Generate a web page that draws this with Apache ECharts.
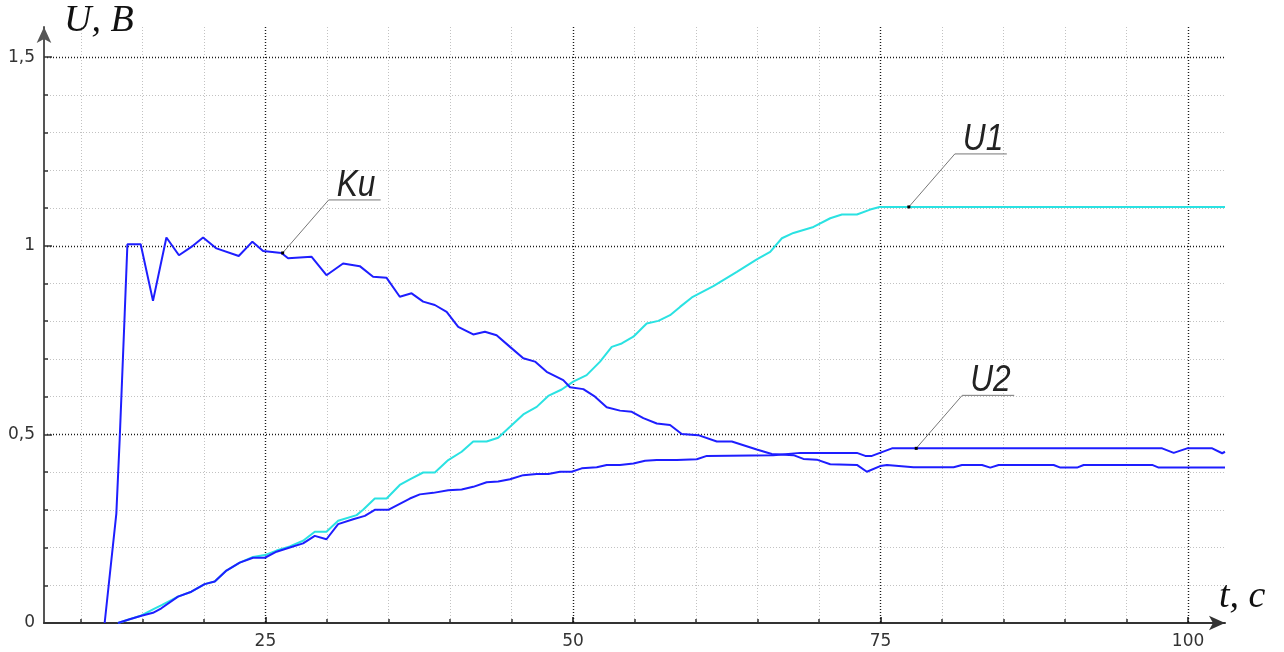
<!DOCTYPE html>
<html>
<head>
<meta charset="utf-8">
<script src="https://cdn.jsdelivr.net/npm/echarts@6.0.0/dist/echarts.min.js"></script>
<style>
  html, body { margin: 0; padding: 0; background: #fff; }
  #chart { width: 1284px; height: 652px; }
</style>
</head>
<body>
<div id="chart"></div>
<script>
// Ku curve
var kuT = [11.93, 12.88, 13.15, 13.56, 13.78, 14.86, 15.86, 16.95, 17.97, 18.98, 19.93, 21.02, 22.83, 23.94, 24.81,
  26.30, 26.84, 28.74, 29.96, 31.31, 32.67, 33.75, 34.85, 35.92, 36.88, 37.82, 38.77, 39.73, 40.67, 41.89, 42.84,
  43.79, 44.88, 45.96, 46.91, 47.86, 49.21, 49.76, 50.84, 51.79, 52.74, 53.82, 54.78, 55.72, 56.81, 57.89, 58.84,
  60.19, 61.69, 62.91, 64.94, 66.16, 67.92, 68.73, 69.82, 70.91, 73.08, 73.89, 74.97, 75.52, 77.68, 80.94, 81.62,
  83.25, 83.92, 84.60, 89.07, 89.62, 90.97, 91.51, 97.08, 97.61, 103];
var kuV = [0, 0.29, 0.485, 0.82, 1.004, 1.004, 0.854, 1.022, 0.975, 0.997, 1.022, 0.993, 0.973, 1.011, 0.986,
  0.981, 0.967, 0.971, 0.922, 0.953, 0.946, 0.918, 0.915, 0.865, 0.874, 0.852, 0.843, 0.825, 0.785, 0.765, 0.772,
  0.763, 0.732, 0.702, 0.693, 0.666, 0.644, 0.625, 0.620, 0.600, 0.572, 0.563, 0.560, 0.543, 0.529, 0.525, 0.501,
  0.498, 0.481, 0.481, 0.460, 0.448, 0.445, 0.435, 0.433, 0.421, 0.419, 0.401, 0.416, 0.419, 0.413, 0.413, 0.419,
  0.419, 0.412, 0.419, 0.419, 0.412, 0.412, 0.419, 0.419, 0.412, 0.412];

// U1 curve (cyan)
var u1T = [13.01, 13.96, 14.92, 15.9, 16.6, 17.89, 18.98, 20.06, 20.88, 21.83, 22.91, 23.99, 24.95, 25.90, 26.98,
  28.06, 29.01, 29.96, 30.91, 32.41, 32.94, 33.89, 34.85, 35.92, 36.74, 37.82, 38.77, 39.86, 40.95, 41.89, 42.98,
  43.92, 44.88, 45.96, 47.05, 47.99, 49.08, 50.02, 51.11, 52.20, 53.15, 53.96, 54.91, 55.99, 56.94, 57.89, 58.70,
  59.66, 61.41, 63.32, 64.94, 66.03, 66.98, 67.92, 69.55, 70.91, 71.86, 73.08, 74.16, 74.92, 103];
var u1V = [0, 0.010, 0.020, 0.037, 0.048, 0.070, 0.083, 0.103, 0.110, 0.139, 0.160, 0.175, 0.180, 0.192, 0.203,
  0.218, 0.242, 0.242, 0.271, 0.286, 0.300, 0.330, 0.330, 0.366, 0.381, 0.399, 0.399, 0.432, 0.454, 0.481, 0.481,
  0.491, 0.520, 0.553, 0.573, 0.602, 0.619, 0.640, 0.657, 0.693, 0.732, 0.741, 0.759, 0.794, 0.801, 0.816, 0.838,
  0.863, 0.893, 0.931, 0.964, 0.984, 1.020, 1.034, 1.050, 1.073, 1.083, 1.083, 1.096, 1.103, 1.103];

// U2 curve
var u2T = [13.01, 13.96, 14.92, 15.86, 16.54, 17.89, 18.98, 20.06, 20.88, 21.83, 22.91, 23.99, 24.95, 25.90, 26.98,
  28.06, 29.01, 29.96, 30.91, 32.13, 33.08, 33.89, 34.98, 36.74, 37.55, 38.64, 39.86, 40.95, 41.89, 42.98, 43.92,
  44.88, 45.96, 47.05, 47.99, 48.94, 49.89, 50.71, 51.93, 52.74, 53.82, 54.91, 55.86, 56.81, 58.44, 60.06, 60.88,
  66.29, 68.47, 73.08, 73.76, 74.30, 75.93, 97.89, 98.83, 99.92, 101.96, 102.77, 103];
var u2V = [0, 0.010, 0.019, 0.027, 0.039, 0.070, 0.083, 0.103, 0.110, 0.139, 0.160, 0.173, 0.173, 0.189, 0.200,
  0.211, 0.231, 0.222, 0.262, 0.275, 0.284, 0.300, 0.300, 0.330, 0.341, 0.345, 0.352, 0.354, 0.361, 0.373, 0.375,
  0.381, 0.392, 0.395, 0.395, 0.401, 0.401, 0.410, 0.413, 0.419, 0.419, 0.423, 0.430, 0.432, 0.432, 0.434, 0.443,
  0.445, 0.451, 0.451, 0.443, 0.443, 0.463, 0.463, 0.451, 0.463, 0.463, 0.450, 0.454];

// axes
var xMajor = [25, 50, 75, 100];
var xMinor = [10, 15, 20, 30, 35, 40, 45, 55, 60, 65, 70, 80, 85, 90, 95];
var yMajor = [0.5, 1, 1.5];
var yMinor = [0.1, 0.2, 0.3, 0.4, 0.6, 0.7, 0.8, 0.9, 1.1, 1.2, 1.3, 1.4];
var yLabels = [0, 0.5, 1, 1.5];

// callouts
var annotNames = ["Ku", "U1", "U2"];
var annotT = [26.4, 77.3, 77.9];
var annotV = [0.981, 1.103, 0.463];

function pairs(ts, vs) {
  return ts.map(function (t, i) { return [t, vs[i]]; });
}

var dark = "#1a1a1a";
var light = "#c2c2c2";
var blue = "#1e1eff";
var cyan = "#2ae2e2";

var chart = echarts.init(document.getElementById("chart"));
var option = {
  animation: false,
  backgroundColor: "#fff",
  grid: { left: 44, right: 59, top: 27, bottom: 29, containLabel: false, outerBoundsMode: "none" },
  xAxis: [
    {
      type: "value", min: 7, max: 103, position: "bottom",
      axisLine: {
        show: true, onZero: false,
        lineStyle: { color: "#333", width: 2 },
        symbol: ["none", "arrow"], symbolSize: [11, 16]
      },
      axisTick: { show: true, inside: true, length: 4, customValues: xMinor, lineStyle: { color: "#333", width: 1.5 } },
      axisLabel: { show: false },
      splitLine: { show: true, lineStyle: { color: light, type: [1, 2], width: 1 } }
    },
    {
      type: "value", min: 7, max: 103, position: "bottom",
      axisLine: { show: false },
      axisTick: { show: true, inside: true, length: 6, customValues: xMajor, lineStyle: { color: "#111", width: 1.5 } },
      axisLabel: {
        show: true, customValues: xMajor, margin: 10,
        color: "#333", fontFamily: "DejaVu Sans", fontSize: 17
      },
      splitLine: { show: true, lineStyle: { color: dark, type: [1, 2], width: 1.4 } }
    }
  ],
  yAxis: [
    {
      type: "value", min: 0, max: 1.58, position: "left",
      axisLine: {
        show: true, onZero: false,
        lineStyle: { color: "#555", width: 2 },
        symbol: ["none", "arrow"], symbolSize: [11, 16]
      },
      axisTick: { show: true, inside: true, length: 4, customValues: yMinor, lineStyle: { color: "#333", width: 1.5 } },
      axisLabel: { show: false },
      splitLine: { show: true, lineStyle: { color: light, type: [1, 2], width: 1 } }
    },
    {
      type: "value", min: 0, max: 1.58, position: "left",
      axisLine: { show: false },
      axisTick: { show: true, inside: true, length: 8, customValues: yMajor, lineStyle: { color: "#333", width: 1.5 } },
      axisLabel: {
        show: true, customValues: yLabels, margin: 9,
        color: "#333", fontFamily: "DejaVu Sans", fontSize: 17,
        formatter: function (v) { return String(v).replace(".", ","); }
      },
      splitLine: { show: true, lineStyle: { color: dark, type: [1, 2], width: 1.4 } }
    }
  ],
  series: [
    {
      name: "U1", type: "line", data: pairs(u1T, u1V), showSymbol: false, symbol: "none",
      lineStyle: { color: cyan, width: 2 }, z: 3
    },
    {
      name: "U2", type: "line", data: pairs(u2T, u2V), showSymbol: false, symbol: "none",
      lineStyle: { color: blue, width: 2 }, z: 4
    },
    {
      name: "Ku", type: "line", data: pairs(kuT, kuV), showSymbol: false, symbol: "none",
      lineStyle: { color: blue, width: 2 }, z: 4
    }
  ]
};
chart.setOption(option);

// axis names and curve callouts
var graphics = [
  {
    type: "text", left: 64, top: 2, z: 20,
    style: { text: "U, B", font: 'italic 38px "Liberation Serif"', fill: "#111" }
  },
  {
    type: "text", left: 1219, top: 578, z: 20,
    style: { text: "t, c", font: 'italic 38px "Liberation Serif"', fill: "#111" }
  }
];
annotNames.forEach(function (name, i) {
  var p = chart.convertToPixel({ xAxisIndex: 0, yAxisIndex: 0 }, [annotT[i], annotV[i]]);
  var ex = p[0] + 46, ey = p[1] - 53;
  graphics.push({
    type: "polyline", z: 20,
    shape: { points: [[p[0], p[1]], [ex, ey], [ex + 52, ey]] },
    style: { stroke: "#777", lineWidth: 1, fill: null }
  });
  graphics.push({
    type: "rect", z: 21,
    shape: { x: p[0] - 1.5, y: p[1] - 1.5, width: 3, height: 3 },
    style: { fill: "#000" }
  });
  graphics.push({
    type: "text", z: 21, x: ex + 8, y: ey + 4, scaleX: 0.88,
    style: {
      text: name, font: 'italic 36px "Liberation Sans"', fill: "#222",
      textAlign: "left", textVerticalAlign: "bottom", align: "left", verticalAlign: "bottom"
    }
  });
});
chart.setOption({ graphic: graphics });
</script>
</body>
</html>
